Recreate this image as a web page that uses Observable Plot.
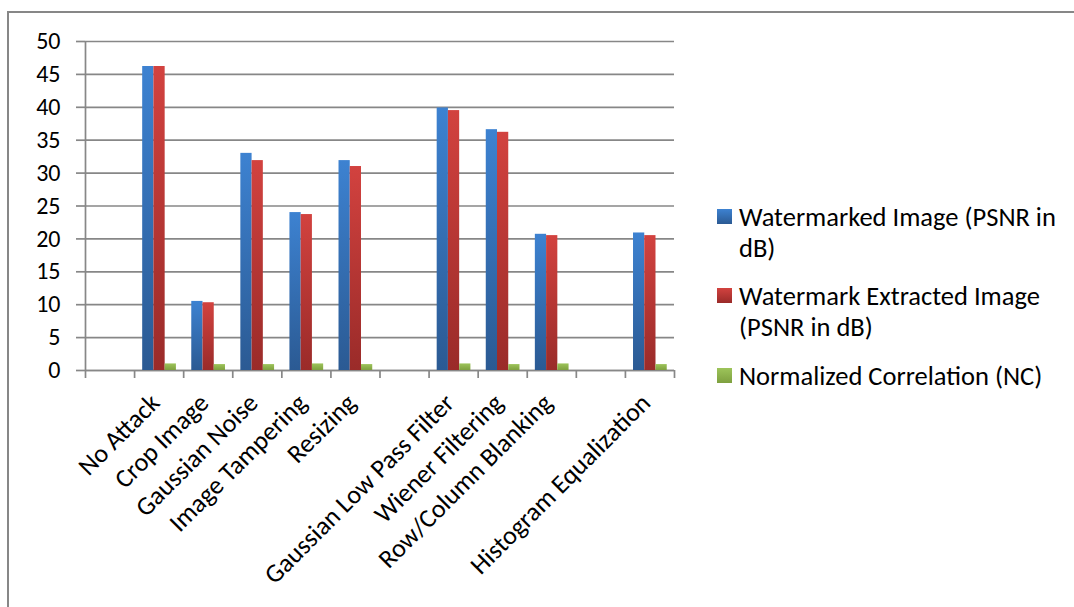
<!DOCTYPE html>
<html><head><meta charset="utf-8">
<script src="https://cdn.jsdelivr.net/npm/d3@7"></script>
<script src="https://cdn.jsdelivr.net/npm/@observablehq/plot@0.6"></script>
<style>
html,body{margin:0;padding:0;background:#fff;overflow:hidden;}
#wrap{position:relative;width:1074px;height:607px;font-family:Calibri,Carlito,Lato,sans-serif;}
#chart{position:absolute;left:0;top:0;}
#border{position:absolute;left:7px;top:11px;width:1200px;height:800px;border:2px solid #878787;box-sizing:border-box;pointer-events:none;}
.entry{position:absolute;left:717px;font-size:26.5px;line-height:31px;color:#000;white-space:nowrap;}
.entry .sw{position:absolute;left:0;top:7px;width:15px;height:15px;}
.entry .tx{position:absolute;left:22px;top:0;}
</style></head><body>
<div id="wrap"><div id="chart"></div><div id="border"></div><div id="legend"></div></div>
<script>
const categories = ["", "No Attack", "Crop Image", "Gaussian Noise", "Image Tampering", "Resizing", "", "Gaussian Low Pass Filter", "Wiener Filtering", "Row/Column Blanking", "", "Histogram Equalization"];
const watermarked = [null, 46.2, 10.5, 33.0, 24.0, 31.9, null, 39.9, 36.6, 20.7, null, 20.9];
const extracted   = [null, 46.2, 10.3, 31.9, 23.7, 31.0, null, 39.5, 36.2, 20.5, null, 20.5];
const nc          = [null, 1.0, 0.9, 0.9, 1.0, 0.9, null, 1.0, 0.9, 1.0, null, 0.9];
const seriesNames = ["Watermarked Image (PSNR in dB)", "Watermark Extracted Image (PSNR in dB)", "Normalized Correlation (NC)"];
const legendLines = [["Watermarked Image (PSNR in", "dB)"], ["Watermark Extracted Image", "(PSNR in dB)"], ["Normalized Correlation (NC)"]];
const gradStops = [["#3D82D1", "#2B5A93"], ["#D2423F", "#9A2B29"], ["#9DC45A", "#7EA03F"]];
const yTicks = d3.range(0, 51, 5);

const seriesValues = [watermarked, extracted, nc];
const rows = seriesValues.flatMap((vals, s) =>
  vals.map((v, i) => ({i, s, series: seriesNames[s], value: v})).filter(d => d.value != null));
const labelRows = categories.map((c, i) => ({i, label: c})).filter(d => d.label !== "");

const groupStart = 0.165, barW = 0.229;
const gray = "#878787";

const barMarks = seriesNames.map((name, s) =>
  Plot.rectY(rows.filter(d => d.s === s), {
    x1: d => d.i + groupStart + d.s * barW,
    x2: d => d.i + groupStart + (d.s + 1) * barW,
    y: "value",
    fill: `url(#grad${s})`,
    style: "filter: drop-shadow(2px 1px 1.2px rgba(0,0,0,0.28));"
  }));

const chart = Plot.plot({
  width: 1074,
  height: 607,
  marginLeft: 85,
  marginRight: 400,
  marginTop: 41,
  marginBottom: 237,
  style: {fontFamily: "Calibri, Carlito, Lato, sans-serif", color: "#000", background: "transparent", overflow: "visible"},
  x: {domain: [0, categories.length], axis: null},
  y: {domain: [0, 50], axis: null},
  marks: [
    Plot.gridY(yTicks, {stroke: gray, strokeOpacity: 1, strokeWidth: 1.7}),
    Plot.axisY(yTicks, {label: null, tickSize: 9, tickPadding: 16, fontSize: 24, stroke: gray, strokeWidth: 1.7, fill: "#000"}),
    Plot.axisX(d3.range(categories.length + 1), {label: null, tickSize: 8, tickFormat: () => "", stroke: gray, strokeWidth: 1.7}),
    Plot.ruleX([0], {stroke: gray, strokeWidth: 1.7}),
    Plot.ruleY([0], {stroke: gray, strokeWidth: 1.7}),
    ...barMarks,
    Plot.text(labelRows, {
      x: d => d.i + 0.5,
      frameAnchor: "bottom",
      text: "label",
      rotate: -45,
      textAnchor: "end",
      fontSize: 26,
      fill: "#000",
      dx: 2,
      dy: 34
    })
  ]
});

// gradient definitions for the bars
const ns = "http://www.w3.org/2000/svg";
const defs = document.createElementNS(ns, "defs");
gradStops.forEach(([top, bottom], s) => {
  const g = document.createElementNS(ns, "linearGradient");
  g.setAttribute("id", `grad${s}`);
  g.setAttribute("x1", "0"); g.setAttribute("y1", "0");
  g.setAttribute("x2", "0"); g.setAttribute("y2", "1");
  [[0, top], [1, bottom]].forEach(([o, c]) => {
    const st = document.createElementNS(ns, "stop");
    st.setAttribute("offset", o);
    st.setAttribute("stop-color", c);
    g.appendChild(st);
  });
  defs.appendChild(g);
});
chart.insertBefore(defs, chart.firstChild);
document.getElementById("chart").appendChild(chart);

// legend
const entryTops = [201.6, 280.6, 360.6];
const legend = document.getElementById("legend");
seriesNames.forEach((name, s) => {
  const e = document.createElement("div");
  e.className = "entry";
  e.style.top = entryTops[s] + "px";
  e.title = name;
  const sw = document.createElement("div");
  sw.className = "sw";
  sw.style.background = `linear-gradient(${gradStops[s][0]}, ${gradStops[s][1]})`;
  const tx = document.createElement("div");
  tx.className = "tx";
  legendLines[s].forEach((line, k) => {
    if (k) tx.appendChild(document.createElement("br"));
    tx.appendChild(document.createTextNode(line));
  });
  e.appendChild(sw); e.appendChild(tx);
  legend.appendChild(e);
});
</script>
</body></html>
